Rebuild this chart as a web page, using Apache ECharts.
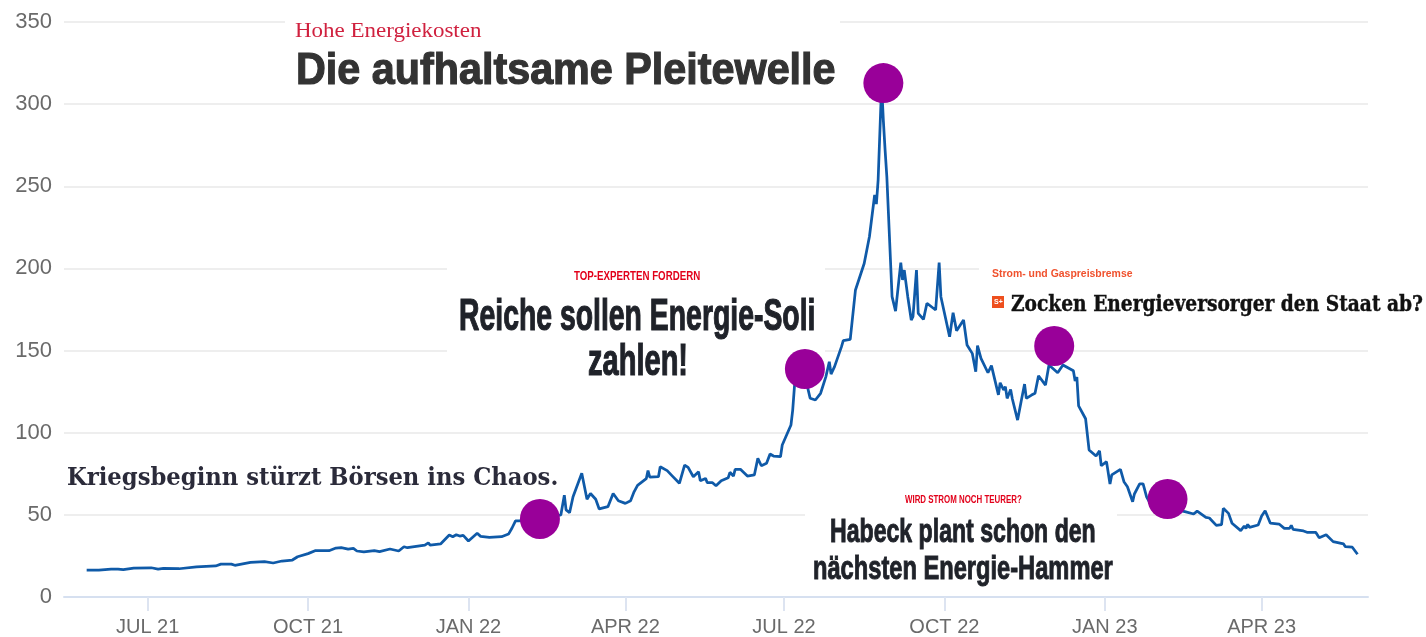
<!DOCTYPE html>
<html>
<head>
<meta charset="utf-8">
<title>Die aufhaltsame Pleitewelle</title>
<script src="https://cdn.jsdelivr.net/npm/echarts@6/dist/echarts.min.js"></script>
<style>
  html, body { margin: 0; padding: 0; background: #fff; }
  #chart { width: 1426px; height: 637px; }
</style>
</head>
<body>
<div id="chart"></div>
<script>
// days counted from 1 Jul 2021
const days = [
  -35, -28, -21, -17, -14, -8, 2, 6, 9, 18, 28, 39, 42, 48, 50, 59, 67, 72, 77, 83, 86, 92, 96, 104, 108, 111, 115, 118, 120, 124,
  130, 133, 139, 144, 147, 149, 159, 161, 162, 168, 173, 175, 177, 179, 181, 184, 189, 191, 196, 203, 207, 209, 211, 213, 225, 237,
  239, 240, 242, 244, 249, 252, 254, 257, 259, 264, 267, 270, 274, 277, 279, 281, 286, 287, 288, 293, 294, 298, 301, 302,
  305, 308, 310, 313, 316, 317, 320, 321, 324, 326, 329, 333, 334, 336, 337, 340, 344, 348, 350, 352, 355, 357, 359, 363,
  364, 365, 369, 370, 371, 372, 375, 378, 380, 383, 386, 389, 391, 392, 394, 398, 399, 403, 406, 407, 411, 412, 414, 417,
  418, 419, 421, 422, 423, 424, 427, 428, 429, 432, 433, 434, 436, 438, 439, 441, 442, 445, 447, 448, 452, 454, 455, 460,
  462, 464, 468, 470, 473, 475, 476, 478, 482, 484, 488, 489, 491, 492, 493, 495, 496, 499, 501, 503, 504, 507, 509, 511,
  515, 517, 522, 525, 531, 532, 533, 534, 538, 540, 544, 546, 547, 550, 552, 553, 554, 558, 560, 562, 565, 566, 567, 569,
  571, 573, 575, 585, 595, 600, 602, 607, 609, 613, 616, 617, 620, 622, 623, 627, 629, 630, 631, 632, 637, 639, 641, 644,
  649, 652, 655, 656, 657, 663, 665, 670, 672, 676, 680, 686, 687, 691, 694
];
const prices = [
  16.3, 16.3, 17, 17, 16.6, 17.6, 17.8, 17, 17.4, 17.2, 18.4, 18.9, 20, 20, 19.3, 21.1, 21.5, 20.7, 21.9, 22.5, 24.5, 26.4, 28.2, 28.2, 29.8, 30, 29.2, 29.6, 28, 27.4,
  28.2, 27.6, 29.2, 28, 30.6, 30, 31.6, 33, 31.6, 32.3, 37.7, 36.7, 37.9, 37.1, 37.5, 34.1, 38.8, 36.9, 36.3, 36.7, 38.3, 42, 46.3, 46.4, 47.5, 49.9,
  62, 53, 51.3, 61, 75.3, 59.5, 63, 59.5, 53.6, 55, 63, 58.6, 57, 58.6, 64, 68, 72, 76.9, 73, 73.2, 79.3, 76.9, 73.6, 74.3,
  69.2, 80.3, 78.9, 73.2, 76.3, 70.8, 72.2, 69.6, 69.6, 67.7, 70.8, 72.6, 75.9, 73.6, 77.7, 77.7, 73.6, 74.3, 84.4, 79.9, 81.4, 87, 85.8, 85.4,
  92.5, 93.5, 104.7, 113.8, 128, 139, 138, 130, 121, 119.9, 124, 134, 143.2, 135.7, 140.2, 152.4, 156, 156.8, 186.9, 186.9, 203, 204, 219.3, 244.7,
  239.2, 253.8, 312, 290, 272, 255.8, 182.8, 182, 174, 203.5, 193, 199, 182.8, 168.6, 170.6, 199, 172.7, 169, 178.8, 179.8, 174.7, 203.5, 182.8, 158.4,
  173, 162, 168.6, 153.4, 148.3, 137.1, 153, 145.2, 136.5, 140.8, 123, 130.4, 126, 128, 120.9, 126.3, 120.5, 107.7, 118.9, 129.6, 120.9, 122.9, 124, 134.7,
  129, 141.2, 136.5, 141.2, 137.7, 131.5, 133.9, 116.3, 108.5, 89.5, 85.8, 89, 79.9, 82.4, 68.8, 74.3, 73.6, 77.7, 70.2, 67.1, 58, 62.7, 62.7, 68.8,
  68.8, 61, 57, 54, 52, 50.5, 52.3, 48.5, 48.1, 43.6, 44, 54, 50.9, 44.9, 45.6, 40.4, 43.2, 41.8, 44.2, 42.4, 43.8, 49.3, 52.5, 44.9,
  44.4, 41.8, 41.8, 43.6, 41.2, 40.2, 39.4, 39.4, 36.1, 37.9, 33.7, 32.3, 30.6, 30.3, 26
];

// the five purple dots
const dotDays = [225, 377, 422, 520, 585];
const dotValues = [47.5, 138.8, 312.8, 152.8, 59.6];

const tickDays = [0, 92, 184, 274, 365, 457, 549, 639];
const tickLabels = ['JUL 21', 'OCT 21', 'JAN 22', 'APR 22', 'JUL 22', 'OCT 22', 'JAN 23', 'APR 23'];
const axisMinDay = -48;
const axisMaxDay = 700;

const sans = '"Liberation Sans", sans-serif';
const slab = '"DejaVu Serif Condensed", "DejaVu Serif", serif';

// white patches behind the pasted headlines, they cut the grid lines
const patch = (x, y, width, height) => ({
  type: 'rect',
  z: 1,
  silent: true,
  shape: { x, y, width, height },
  style: { fill: '#fff' }
});

// no condensed face is installed, so headlines get squeezed with scaleX
const label = (text, x, y, font, fill, scaleX = 1, heavy = 0) => ({
  type: 'text',
  z: 5,
  silent: true,
  x,
  y,
  scaleX,
  style: { text, font, fill, verticalAlign: 'middle', stroke: heavy ? fill : null, lineWidth: heavy }
});

const chart = echarts.init(document.getElementById('chart'));

chart.setOption({
  animation: false,
  backgroundColor: '#fff',
  grid: { left: 64, right: 58, top: 22, bottom: 39 },
  xAxis: {
    type: 'value',
    min: axisMinDay,
    max: axisMaxDay,
    splitLine: { show: false },
    axisLine: { lineStyle: { color: '#d6e0f0', width: 2 } },
    axisTick: { length: 14, customValues: tickDays, lineStyle: { color: '#dde4f1', width: 2 } },
    axisLabel: {
      customValues: tickDays,
      margin: 20,
      fontFamily: sans,
      fontSize: 20,
      color: '#6a6a6a',
      formatter: value => tickLabels[tickDays.indexOf(value)]
    }
  },
  yAxis: {
    type: 'value',
    min: 0,
    max: 350,
    interval: 50,
    axisLine: { show: false },
    axisTick: { show: false },
    splitLine: { lineStyle: { color: '#eeeeee', width: 2 } },
    axisLabel: { margin: 12, fontFamily: sans, fontSize: 22, color: '#6a6a6a' }
  },
  series: [
    {
      type: 'line',
      z: 2,
      showSymbol: false,
      silent: true,
      lineStyle: { color: '#0f5aa8', width: 2.75 },
      data: days.map((d, i) => [d, prices[i]])
    },
    {
      type: 'scatter',
      z: 3,
      silent: true,
      symbolSize: 40,
      itemStyle: { color: '#990099', opacity: 1 },
      data: dotDays.map((d, i) => [d, dotValues[i]])
    }
  ],
  graphic: [
    patch(285, 14, 555, 76),
    patch(447, 260, 378, 100),
    patch(979, 262, 447, 16),
    patch(805, 508, 312, 14),

    label('Hohe Energiekosten', 295, 32, '20px "Liberation Serif", serif', '#d0213f', 1.148),
    label('Die aufhaltsame Pleitewelle', 296, 72, 'bold 45px ' + sans, '#333333', 0.918, 1.2),

    label('TOP-EXPERTEN FORDERN', 574, 277, 'bold 12px ' + sans, '#e2001a', 0.81),
    label('Reiche sollen Energie-Soli', 459, 318, 'bold 44px ' + sans, '#1f2229', 0.645, 1.2),
    label('zahlen!', 588, 363, 'bold 44px ' + sans, '#1f2229', 0.66, 1.2),

    label('Strom- und Gaspreisbremse', 992, 274, 'bold 10px ' + sans, '#f0512d', 1.045),
    {
      type: 'rect',
      z: 5,
      silent: true,
      shape: { x: 992, y: 296, width: 12, height: 12 },
      style: { fill: '#ee4f1e' }
    },
    label('S+', 994, 302, 'bold 7px ' + sans, '#ffffff'),
    label('Zocken Energieversorger den Staat ab?', 1011, 305, 'bold 23px ' + slab, '#111111', 0.9, 0.4),

    label('WIRD STROM NOCH TEURER?', 905, 500, 'bold 10px ' + sans, '#e2001a', 0.79),
    label('Habeck plant schon den', 830, 533, 'bold 33px ' + sans, '#1f2229', 0.7, 1),
    label('nächsten Energie-Hammer', 813, 570, 'bold 33px ' + sans, '#1f2229', 0.717, 1),

    label('Kriegsbeginn stürzt Börsen ins Chaos.', 67, 478, 'bold 25px ' + slab, '#2b2b3a', 1.01)
  ]
});
</script>
</body>
</html>
